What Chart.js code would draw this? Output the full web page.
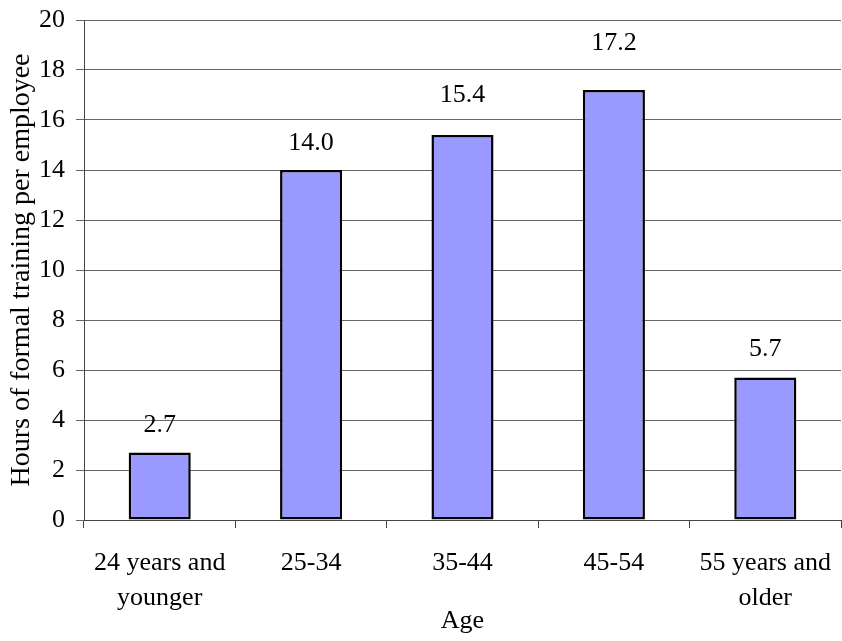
<!DOCTYPE html>
<html>
<head>
<meta charset="utf-8">
<script src="https://cdn.jsdelivr.net/npm/chart.js@4/dist/chart.umd.min.js"></script>
<style>
html,body{margin:0;padding:0;background:#fff;}
#wrap{width:842px;height:641px;position:relative;}
</style>
</head>
<body>
<div id="wrap"><canvas id="c" width="842" height="641"></canvas></div>
<script>
const categories = [["24 years and","younger"], "25-34", "35-44", "45-54", ["55 years and","older"]];
const hoursPerEmployee = [2.7, 14.0, 15.4, 17.2, 5.7];
const yAxisTitle = "Hours of formal training per employee";
const xAxisTitle = "Age";

const FONT = "'Liberation Serif', 'Times New Roman', serif";

const valueLabels = {
  id: 'valueLabels',
  afterDatasetsDraw(chart, args, opts) {
    const ctx = chart.ctx;
    const meta = chart.getDatasetMeta(0);
    const data = chart.data.datasets[0].data;
    const raise = opts.raise || [];
    ctx.save();
    ctx.font = "26px " + FONT;
    ctx.fillStyle = '#000';
    ctx.textAlign = 'center';
    ctx.textBaseline = 'alphabetic';
    meta.data.forEach((bar, i) => {
      const r = raise[i] !== undefined ? raise[i] : 21;
      ctx.fillText(Number(data[i]).toFixed(1), bar.x, bar.y - r);
    });
    ctx.restore();
  }
};

new Chart(document.getElementById('c'), {
  type: 'bar',
  data: {
    labels: categories,
    datasets: [{
      data: hoursPerEmployee,
      backgroundColor: '#9999FF',
      borderColor: '#000',
      borderWidth: 2.5,
      borderSkipped: false,
      barPercentage: 0.41,
      categoryPercentage: 1.0
    }]
  },
  options: {
    responsive: false,
    animation: false,
    devicePixelRatio: 1,
    layout: { padding: { top: 20, right: 1, left: 0, bottom: 0 } },
    plugins: {
      legend: { display: false },
      tooltip: { enabled: false },
      valueLabels: { raise: [21, 20, 33, 40, 22] }
    },
    scales: {
      x: {
        afterFit(scale) { scale.height = 121; scale.paddingLeft = 0; scale.paddingRight = 0; },
        grid: { offset: true, drawOnChartArea: false, drawTicks: true, tickLength: 8, color: '#444' },
        border: { color: '#444', width: 1 },
        ticks: { color: '#000', font: { family: FONT, size: 26, lineHeight: 1.35 }, padding: 18, maxRotation: 0, autoSkip: false },
        title: { display: true, text: xAxisTitle, color: '#000', font: { family: FONT, size: 26, lineHeight: 1.2 }, padding: { top: 0, bottom: 4 } }
      },
      y: {
        min: 0, max: 20,
        afterFit(scale) { scale.width = 84; scale.paddingTop = 0; scale.paddingBottom = 0; },
        grid: { color: '#666', tickLength: 8, lineWidth: 1 },
        border: { color: '#444', width: 1 },
        ticks: { stepSize: 2, color: '#000', font: { family: FONT, size: 26 }, padding: 11 },
        title: { display: true, text: yAxisTitle, color: '#000', font: { family: FONT, size: 28, lineHeight: 1.2 }, padding: { top: 5, bottom: 0 } }
      }
    }
  },
  plugins: [valueLabels]
});
</script>
</body>
</html>
